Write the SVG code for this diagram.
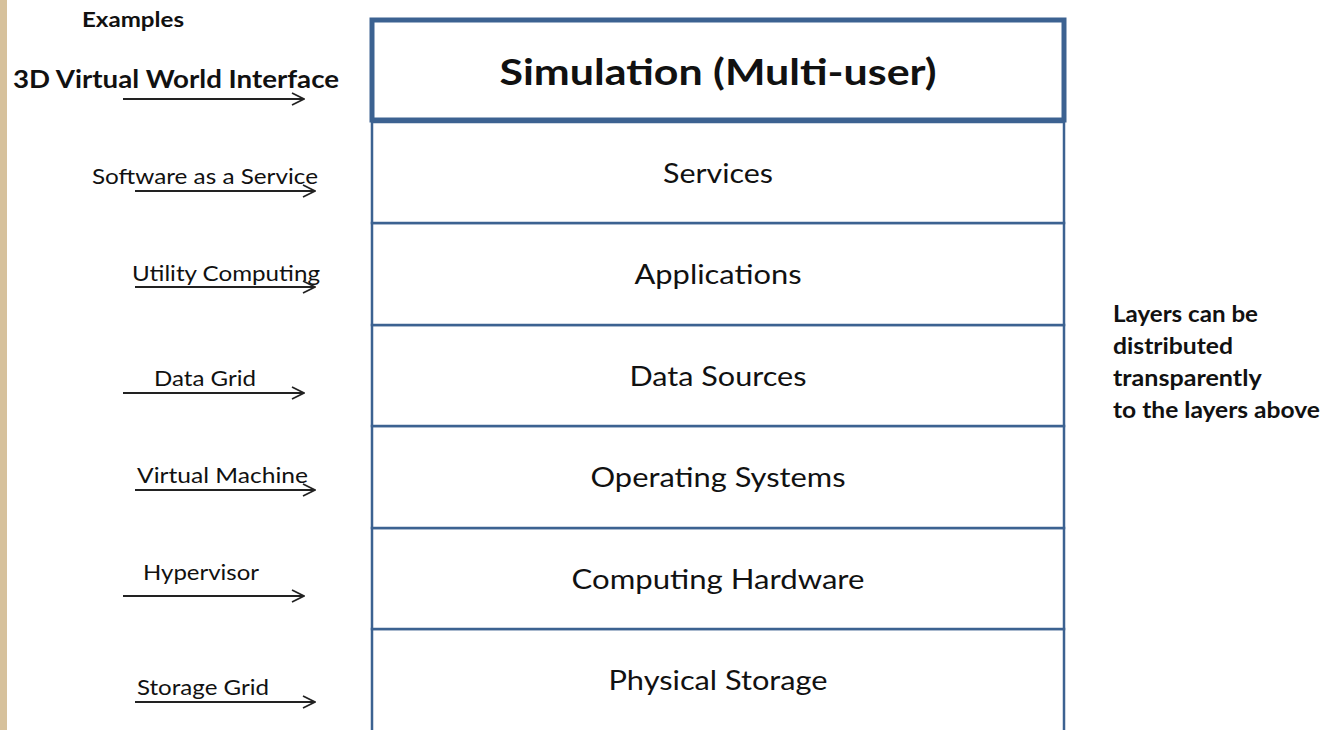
<svg xmlns="http://www.w3.org/2000/svg" width="1325" height="730" viewBox="0 0 1325 730">
  <defs>
    <marker id="open-arrow" viewBox="0 0 14 14" refX="13" refY="7" markerWidth="14" markerHeight="14" markerUnits="userSpaceOnUse" orient="auto">
      <path d="M1,1 L13,7 L1,13" fill="none" stroke="#222" stroke-width="1.7"/>
    </marker>
    <style>
      .layer { fill: #ffffff; stroke: #3c6291; stroke-width: 2.5; }
      .top { fill: #ffffff; stroke: #3c6291; stroke-width: 5; }
      .ltxt { font-family: Lato, "Liberation Sans", sans-serif; font-size: 27px; fill: #111; text-anchor: middle; }
      .ttxt { font-family: Lato, "Liberation Sans", sans-serif; font-size: 36px; font-weight: bold; fill: #111; text-anchor: middle; }
      .ex { font-family: Lato, "Liberation Sans", sans-serif; font-size: 21px; fill: #111; }
      .exb { font-family: Lato, "Liberation Sans", sans-serif; font-weight: bold; fill: #111; }
      .arrow { stroke: #222; stroke-width: 2; fill: none; marker-end: url(#open-arrow); }
    </style>
  </defs>

  <!-- page background with textured left margin -->
  <rect x="0" y="0" width="1325" height="730" fill="#ffffff"/>
  <rect x="0" y="0" width="7" height="730" fill="#d6c19c"/>

  <!-- layer stack -->
  <g id="layer-physical-storage">
    <rect class="layer" x="372" y="629" width="692" height="110"/>
    <text class="ltxt" x="718" y="690" textLength="219" lengthAdjust="spacingAndGlyphs">Physical Storage</text>
  </g>
  <g id="layer-computing-hardware">
    <rect class="layer" x="372" y="528" width="692" height="101"/>
    <text class="ltxt" x="718" y="589" textLength="293" lengthAdjust="spacingAndGlyphs">Computing Hardware</text>
  </g>
  <g id="layer-operating-systems">
    <rect class="layer" x="372" y="426" width="692" height="102"/>
    <text class="ltxt" x="718" y="487" textLength="255" lengthAdjust="spacingAndGlyphs">Operating Systems</text>
  </g>
  <g id="layer-data-sources">
    <rect class="layer" x="372" y="325" width="692" height="101"/>
    <text class="ltxt" x="718" y="386" textLength="177" lengthAdjust="spacingAndGlyphs">Data Sources</text>
  </g>
  <g id="layer-applications">
    <rect class="layer" x="372" y="223" width="692" height="102"/>
    <text class="ltxt" x="718" y="284" textLength="167" lengthAdjust="spacingAndGlyphs">Applications</text>
  </g>
  <g id="layer-services">
    <rect class="layer" x="372" y="122" width="692" height="101"/>
    <text class="ltxt" x="718" y="183" textLength="110" lengthAdjust="spacingAndGlyphs">Services</text>
  </g>
  <g id="layer-simulation">
    <rect class="top" x="372" y="20" width="692" height="100"/>
    <text class="ttxt" x="718" y="85" textLength="437" lengthAdjust="spacingAndGlyphs">Simulation (Multi-user)</text>
  </g>

  <!-- example labels -->
  <g id="examples-heading">
    <text class="exb" x="82" y="27" font-size="20" textLength="102" lengthAdjust="spacingAndGlyphs">Examples</text>
  </g>
  <g id="ex-3d-world">
    <text class="exb" x="13" y="88" font-size="25" textLength="326" lengthAdjust="spacingAndGlyphs">3D Virtual World Interface</text>
  </g>
  <g id="ex-saas">
    <text class="ex" x="92" y="184" textLength="226" lengthAdjust="spacingAndGlyphs">Software as a Service</text>
  </g>
  <g id="ex-utility">
    <text class="ex" x="132" y="281" textLength="188" lengthAdjust="spacingAndGlyphs">Utility Computing</text>
  </g>
  <g id="ex-data-grid">
    <text class="ex" x="154" y="386" textLength="102" lengthAdjust="spacingAndGlyphs">Data Grid</text>
  </g>
  <g id="ex-vm">
    <text class="ex" x="137" y="483" textLength="171" lengthAdjust="spacingAndGlyphs">Virtual Machine</text>
  </g>
  <g id="ex-hypervisor">
    <text class="ex" x="143" y="580" textLength="116" lengthAdjust="spacingAndGlyphs">Hypervisor</text>
  </g>
  <g id="ex-storage-grid">
    <text class="ex" x="137" y="695" textLength="132" lengthAdjust="spacingAndGlyphs">Storage Grid</text>
  </g>

  <!-- side note -->
  <g id="note">
    <text class="exb" font-size="22">
      <tspan x="1113" y="322" textLength="145" lengthAdjust="spacingAndGlyphs">Layers can be</tspan>
      <tspan x="1113" y="354" textLength="120" lengthAdjust="spacingAndGlyphs">distributed</tspan>
      <tspan x="1113" y="386" textLength="148" lengthAdjust="spacingAndGlyphs">transparently</tspan>
      <tspan x="1113" y="418" textLength="207" lengthAdjust="spacingAndGlyphs">to the layers above</tspan>
    </text>
  </g>

  <!-- connectors -->
  <g id="connectors">
    <line class="arrow" x1="123" y1="99" x2="304" y2="99"/>
    <line class="arrow" x1="135" y1="191" x2="315" y2="191"/>
    <line class="arrow" x1="135" y1="287" x2="315" y2="287"/>
    <line class="arrow" x1="123" y1="393" x2="304" y2="393"/>
    <line class="arrow" x1="135" y1="490" x2="315" y2="490"/>
    <line class="arrow" x1="123" y1="596" x2="304" y2="596"/>
    <line class="arrow" x1="135" y1="702" x2="315" y2="702"/>
  </g>
</svg>
